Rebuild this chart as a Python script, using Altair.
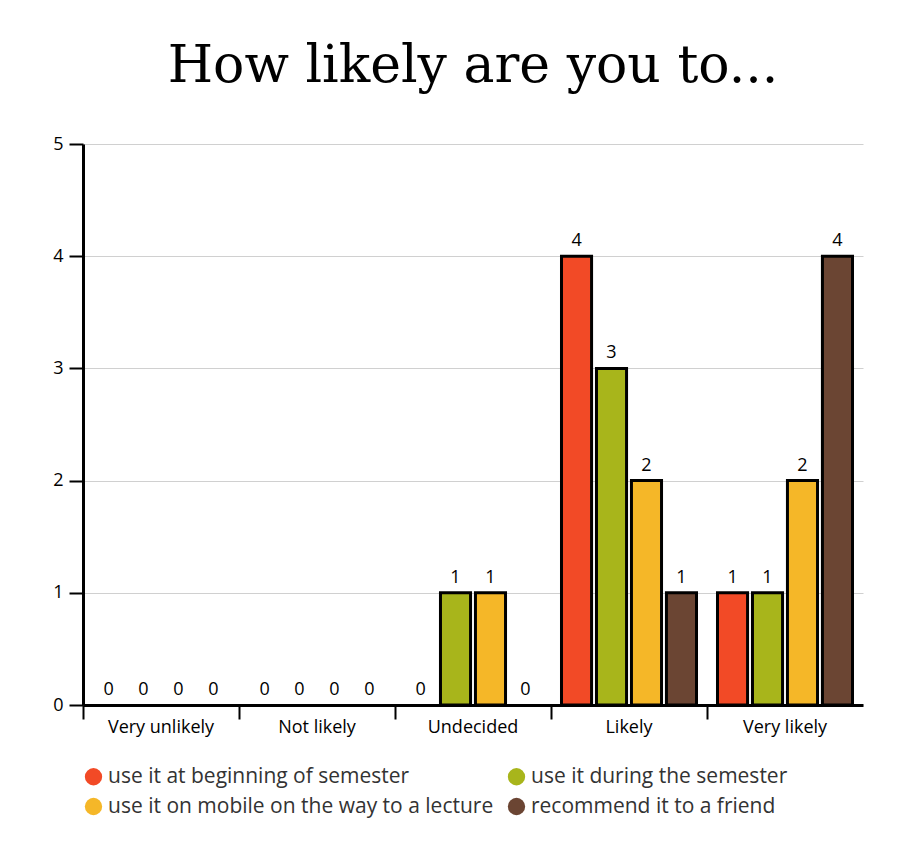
import pandas as pd
import altair as alt

answers = ["Very unlikely", "Not likely", "Undecided", "Likely", "Very likely"]
series = [
    "use it at beginning of semester",
    "use it during the semester",
    "use it on mobile on the way to a lecture",
    "recommend it to a friend",
]
colors = ["#f24a26", "#a8b51b", "#f5b728", "#6b4533"]
counts = {
    "use it at beginning of semester": [0, 0, 0, 4, 1],
    "use it during the semester": [0, 0, 1, 3, 1],
    "use it on mobile on the way to a lecture": [0, 0, 1, 2, 2],
    "recommend it to a friend": [0, 0, 0, 1, 4],
}

rows = []
for s in series:
    for a, v in zip(answers, counts[s]):
        rows.append({"answer": a, "series": s, "count": v})
df = pd.DataFrame(rows)

base = alt.Chart(df).encode(
    x=alt.X("answer:N", sort=answers, title=None,
            scale=alt.Scale(paddingInner=0, paddingOuter=0),
            axis=alt.Axis(bandPosition=0, labelAngle=0, labelFontSize=18,
                          labelColor="black", domainColor="black", domainWidth=3,
                          tickColor="black", tickWidth=2, tickSize=14,
                          labelPadding=-1, grid=False)),
    xOffset=alt.XOffset("series:N", sort=series,
                        scale=alt.Scale(paddingInner=0.14, paddingOuter=0.3)),
)

bars = base.mark_bar(stroke="black").encode(
    y=alt.Y("count:Q", title=None,
            scale=alt.Scale(domain=[0, 5]),
            axis=alt.Axis(tickCount=5, labelFontSize=18, labelColor="black",
                          domainColor="black", domainWidth=3, tickColor="black",
                          tickWidth=2, tickSize=14, labelPadding=6,
                          gridColor="#d0d0d0")),
    strokeWidth=alt.condition("datum.count > 0", alt.value(3), alt.value(0)),
    color=alt.Color("series:N", sort=series, title=None,
                    scale=alt.Scale(domain=series, range=colors),
                    legend=alt.Legend(orient="bottom", columns=2, symbolType="circle",
                                      symbolSize=300, symbolStrokeWidth=0,
                                      labelFontSize=21, labelColor="#333",
                                      columnPadding=12, rowPadding=8, labelLimit=500,
                                      offset=30, padding=0)),
)

labels = base.mark_text(dy=-15, fontSize=18, color="black").encode(
    y="count:Q", text="count:Q"
)

chart = (bars + labels).properties(
    width=780, height=561,
    title=alt.TitleParams("How likely are you to...", fontSize=52,
                          font="DejaVu Serif", fontWeight="normal",
                          color="black", offset=42),
    padding={"left": 44, "top": 32, "right": 10, "bottom": 5},
).configure(font="Open Sans").configure_view(stroke=None)

chart.save("out.html", embed_options={"renderer": "svg", "actions": False})
